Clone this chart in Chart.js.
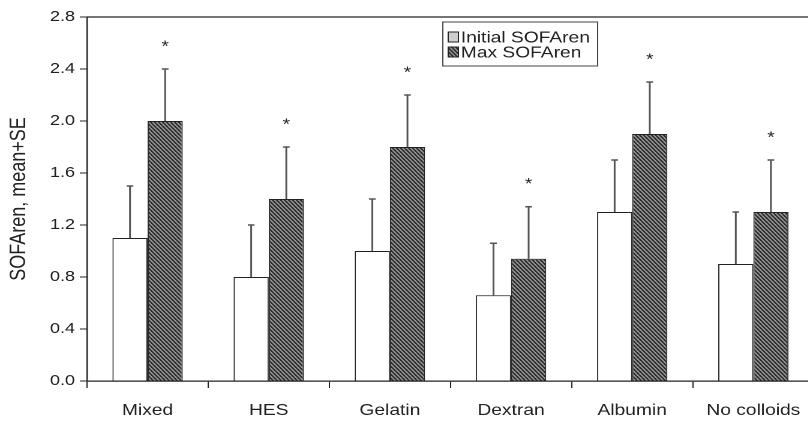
<!DOCTYPE html>
<html><head><meta charset="utf-8">
<script src="https://cdn.jsdelivr.net/npm/chart.js@4"></script>
<style>
html,body{margin:0;padding:0;background:#fff;overflow:hidden;width:808px;height:422px}
#wrap{width:680px;height:422px;position:relative;transform:scaleX(1.2);transform-origin:0 0}
</style>
</head><body><div id="wrap"><canvas id="c"></canvas></div>
<script>
const categories = ['Mixed', 'HES', 'Gelatin', 'Dextran', 'Albumin', 'No colloids'];
const seriesNames = ['Initial SOFAren', 'Max SOFAren'];
const initialMean  = [1.10, 0.80, 1.00, 0.66, 1.30, 0.90];
const initialUpper = [1.50, 1.20, 1.40, 1.06, 1.70, 1.30];
const maxMean      = [2.00, 1.40, 1.80, 0.94, 1.90, 1.30];
const maxUpper     = [2.40, 1.80, 2.20, 1.34, 2.30, 1.70];
const maxSignificant = [true, true, true, true, true, true];
const yTicks = [0.0, 0.4, 0.8, 1.2, 1.6, 2.0, 2.4, 2.8];
const yTitle = 'SOFAren, mean+SE';

const FONT = "'Liberation Sans', Arial, sans-serif";
const SX = 1.2;

function makeHatch() {
  const s = 4;
  const cv = document.createElement('canvas');
  cv.width = s; cv.height = s;
  const g = cv.getContext('2d');
  const img = g.createImageData(s, s);
  for (let y = 0; y < s; y++) for (let x = 0; x < s; x++) {
    const k = ((x - y) % s + s) % s;
    const v = (k < 2) ? 25 : 165;
    const i = (y * s + x) * 4;
    img.data[i] = v; img.data[i+1] = v; img.data[i+2] = v; img.data[i+3] = 255;
  }
  g.putImageData(img, 0, 0);
  const p = g.createPattern(cv, 'repeat');
  if (p.setTransform) p.setTransform(new DOMMatrix().scale(1 / SX, 1));
  return p;
}
const hatch = makeHatch();

const upperSets = [initialUpper, maxUpper];
const starSets = [null, maxSignificant];

const extras = {
  id: 'extras',
  afterDatasetsDraw(chart) {
    const ctx = chart.ctx;
    const y = chart.scales.y;
    const area = chart.chartArea;
    ctx.save();
    ctx.strokeStyle = '#222';
    ctx.lineWidth = 1.2;
    ctx.beginPath();
    ctx.moveTo(area.left, area.top);
    ctx.lineTo(chart.width, area.top);
    ctx.stroke();
    chart.data.datasets.forEach((ds, di) => {
      const meta = chart.getDatasetMeta(di);
      meta.data.forEach((bar, i) => {
        const x = bar.x;
        const yTop = y.getPixelForValue(upperSets[di][i]);
        ctx.strokeStyle = '#555';
        ctx.lineWidth = 1.5;
        ctx.beginPath();
        ctx.moveTo(x, bar.y);
        ctx.lineTo(x, yTop);
        ctx.moveTo(x - 2.8, yTop);
        ctx.lineTo(x + 2.8, yTop);
        ctx.stroke();
        if (starSets[di] && starSets[di][i]) {
          ctx.fillStyle = '#222';
          ctx.font = '16px ' + FONT;
          ctx.textAlign = 'center';
          ctx.textBaseline = 'middle';
          ctx.fillText('*', x, yTop - 22);
        }
      });
    });
    const lx = 369, ly = 22, lw = 129, lh = 44;
    ctx.fillStyle = '#fff';
    ctx.fillRect(lx, ly, lw, lh);
    ctx.strokeStyle = '#444';
    ctx.lineWidth = 1;
    ctx.strokeRect(lx, ly, lw, lh);
    const fills = ['#cfcfcf', hatch];
    seriesNames.forEach((name, k) => {
      const cy = ly + 15 + k * 15;
      ctx.fillStyle = fills[k];
      ctx.fillRect(lx + 4.5, cy - 5, 8.5, 10);
      ctx.strokeStyle = '#222';
      ctx.strokeRect(lx + 4.5, cy - 5, 8.5, 10);
      ctx.fillStyle = '#222';
      ctx.font = '16px ' + FONT;
      ctx.textAlign = 'left';
      ctx.textBaseline = 'middle';
      ctx.fillText(name, lx + 15, cy + 1);
    });
    ctx.restore();
  }
};

new Chart(document.getElementById('c'), {
  type: 'bar',
  data: {
    labels: categories,
    datasets: [
      { label: seriesNames[0], data: initialMean, backgroundColor: '#ffffff', borderColor: '#222', borderWidth: 1 },
      { label: seriesNames[1], data: maxMean, backgroundColor: hatch, borderColor: '#222', borderWidth: 1 }
    ]
  },
  options: {
    responsive: true,
    maintainAspectRatio: false,
    animation: false,
    devicePixelRatio: 2,
    layout: { padding: { top: 17, right: 1, left: 0, bottom: 0 } },
    datasets: { bar: { categoryPercentage: 0.58, barPercentage: 1.0 } },
    plugins: { legend: { display: false }, tooltip: { enabled: false } },
    scales: {
      x: {
        grid: { display: true, offset: true, drawOnChartArea: false, drawTicks: true, tickLength: 7, color: '#222', lineWidth: 1 },
        border: { display: true, color: '#222', width: 1.2 },
        ticks: { color: '#222', font: { family: FONT, size: 16 }, padding: 13, maxRotation: 0, autoSkip: false },
        afterFit(s) { s.height = 41; }
      },
      y: {
        min: 0, max: 2.8,
        afterBuildTicks(s) { s.ticks = yTicks.map(v => ({ value: v })); },
        grid: { display: true, drawOnChartArea: false, drawTicks: true, tickLength: 6, color: '#222', lineWidth: 1 },
        border: { display: true, color: '#222', width: 1.2 },
        ticks: { color: '#222', font: { family: FONT, size: 15 }, padding: 4, callback: v => Number(v).toFixed(1) },
        title: { display: true, text: yTitle, color: '#222', font: { family: FONT, size: 18 }, padding: { top: 5, bottom: 0 } },
        afterFit(s) { s.width = 72.5; }
      }
    }
  },
  plugins: [extras]
});
</script>
</body></html>
